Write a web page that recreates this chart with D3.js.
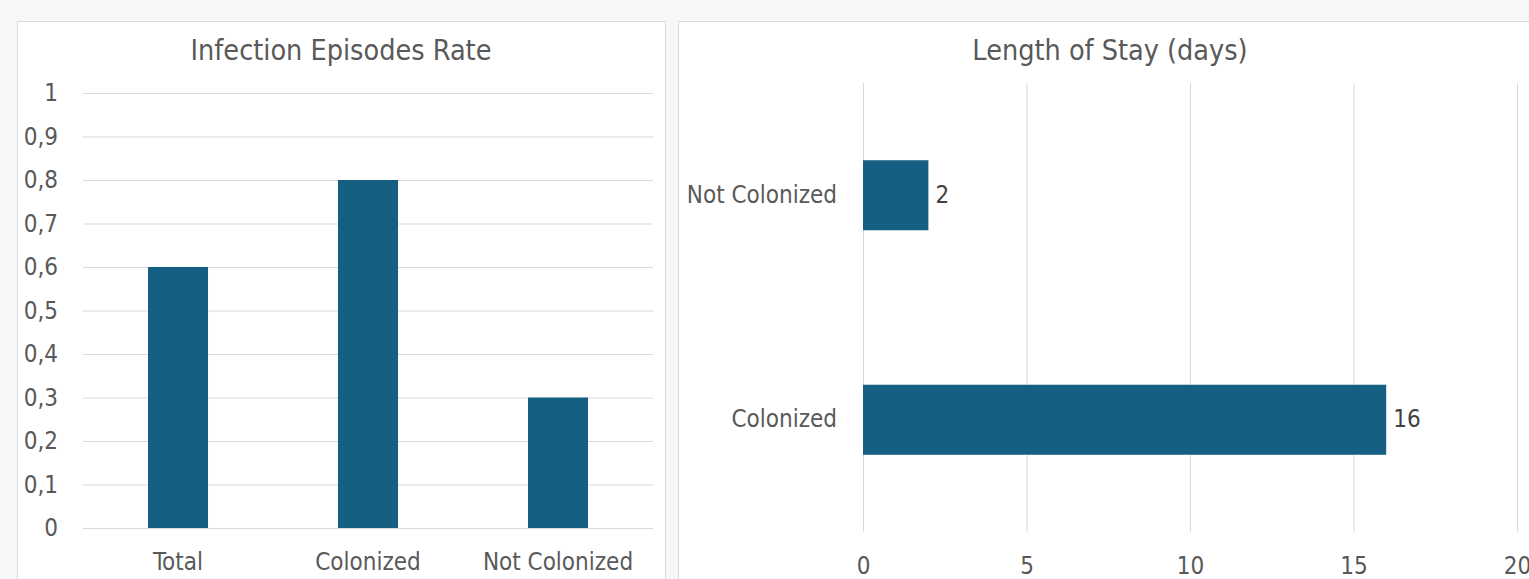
<!DOCTYPE html>
<html><head><meta charset="utf-8">
<script src="https://cdn.jsdelivr.net/npm/d3@7"></script>
<style>
html,body{margin:0;padding:0;background:#f7f7f7;}
svg{display:block;}
text{font-family:"DejaVu Sans Condensed","DejaVu Sans",sans-serif;font-stretch:condensed;fill:#595959;}
</style></head>
<body>
<svg id="c" width="1529" height="579"></svg>
<script>
const leftCategories = ["Total", "Colonized", "Not Colonized"];
const leftValues = [0.6, 0.8, 0.3];
const leftTicks = [0, 0.1, 0.2, 0.3, 0.4, 0.5, 0.6, 0.7, 0.8, 0.9, 1];
const leftTitle = "Infection Episodes Rate";

const rightCategories = ["Colonized", "Not Colonized"];
const rightValues = [16, 2];
const rightTicks = [0, 5, 10, 15, 20];
const rightTitle = "Length of Stay (days)";

const barColor = "#156082";
const gridColor = "#d9d9d9";
const fs = "24px";
const titleFs = "28.5px";
const svg = d3.select("#c");

// panels
svg.append("rect").attr("x",17.5).attr("y",21.5).attr("width",648).attr("height",570)
  .attr("fill","#fff").attr("stroke","#d9d9d9");
svg.append("rect").attr("x",678.5).attr("y",21.5).attr("width",900).attr("height",570)
  .attr("fill","#fff").attr("stroke","#d9d9d9");

// ---- Left chart
const fmt = d => d3.format("")(+d.toFixed(1)).replace(".", ",");
const y = d3.scaleLinear().domain([0,1]).range([528,93]);
const x = d3.scaleBand().domain(leftCategories).range([83,653]).paddingInner(0.684).paddingOuter(0.342);
const gL = svg.append("g");
gL.append("text").attr("x",341).attr("y",60).attr("text-anchor","middle").style("font-size",titleFs).text(leftTitle);
const yAx = gL.append("g").attr("transform","translate(83,0)")
  .call(d3.axisLeft(y).tickValues(leftTicks).tickSize(-570).tickPadding(25).tickFormat(fmt));
yAx.select(".domain").remove();
yAx.selectAll(".tick line").attr("stroke",gridColor).attr("stroke-width",1);
yAx.selectAll(".tick text").style("font-size",fs).attr("fill","#595959");
gL.selectAll("rect.bar").data(leftValues).join("rect").attr("class","bar")
  .attr("x",(d,i)=>x(leftCategories[i])).attr("width",x.bandwidth())
  .attr("y",d=>y(d)).attr("height",d=>y(0)-y(d)).attr("fill",barColor);
const xAx = gL.append("g").attr("transform","translate(0,528)")
  .call(d3.axisBottom(x).tickSize(0).tickPadding(25));
xAx.select(".domain").remove();
xAx.selectAll(".tick text").style("font-size",fs).attr("fill","#595959");

// ---- Right chart
const gR = svg.append("g");
gR.append("text").attr("x",1110).attr("y",60).attr("text-anchor","middle").style("font-size",titleFs).text(rightTitle);
const xr = d3.scaleLinear().domain([0,20]).range([863,1517]);
const yr = d3.scaleBand().domain(rightCategories).range([532,83]).paddingInner(0.688).paddingOuter(0.344);
const xrAx = gR.append("g").attr("transform","translate(0,83)")
  .call(d3.axisBottom(xr).tickValues(rightTicks).tickSize(449).tickPadding(0));
xrAx.select(".domain").remove();
xrAx.selectAll(".tick line").attr("stroke",gridColor);
xrAx.selectAll(".tick text").attr("y",449+25).attr("dy","0.71em").style("font-size",fs).attr("fill","#595959");
gR.selectAll("rect.bar").data(rightValues).join("rect").attr("class","bar")
  .attr("y",(d,i)=>yr(rightCategories[i])).attr("height",yr.bandwidth())
  .attr("x",xr(0)).attr("width",d=>xr(d)-xr(0)).attr("fill",barColor);
gR.selectAll("text.lbl").data(rightValues).join("text").attr("class","lbl")
  .attr("x",d=>xr(d)+7).attr("y",(d,i)=>yr(rightCategories[i])+yr.bandwidth()/2).attr("dy","0.32em")
  .style("font-size",fs).style("fill","#404040").text(d=>d);
const yrAx = gR.append("g").attr("transform","translate(863,0)")
  .call(d3.axisLeft(yr).tickSize(0).tickPadding(26));
yrAx.select(".domain").remove();
yrAx.selectAll(".tick text").style("font-size",fs).attr("fill","#595959");
</script>
</body></html>
